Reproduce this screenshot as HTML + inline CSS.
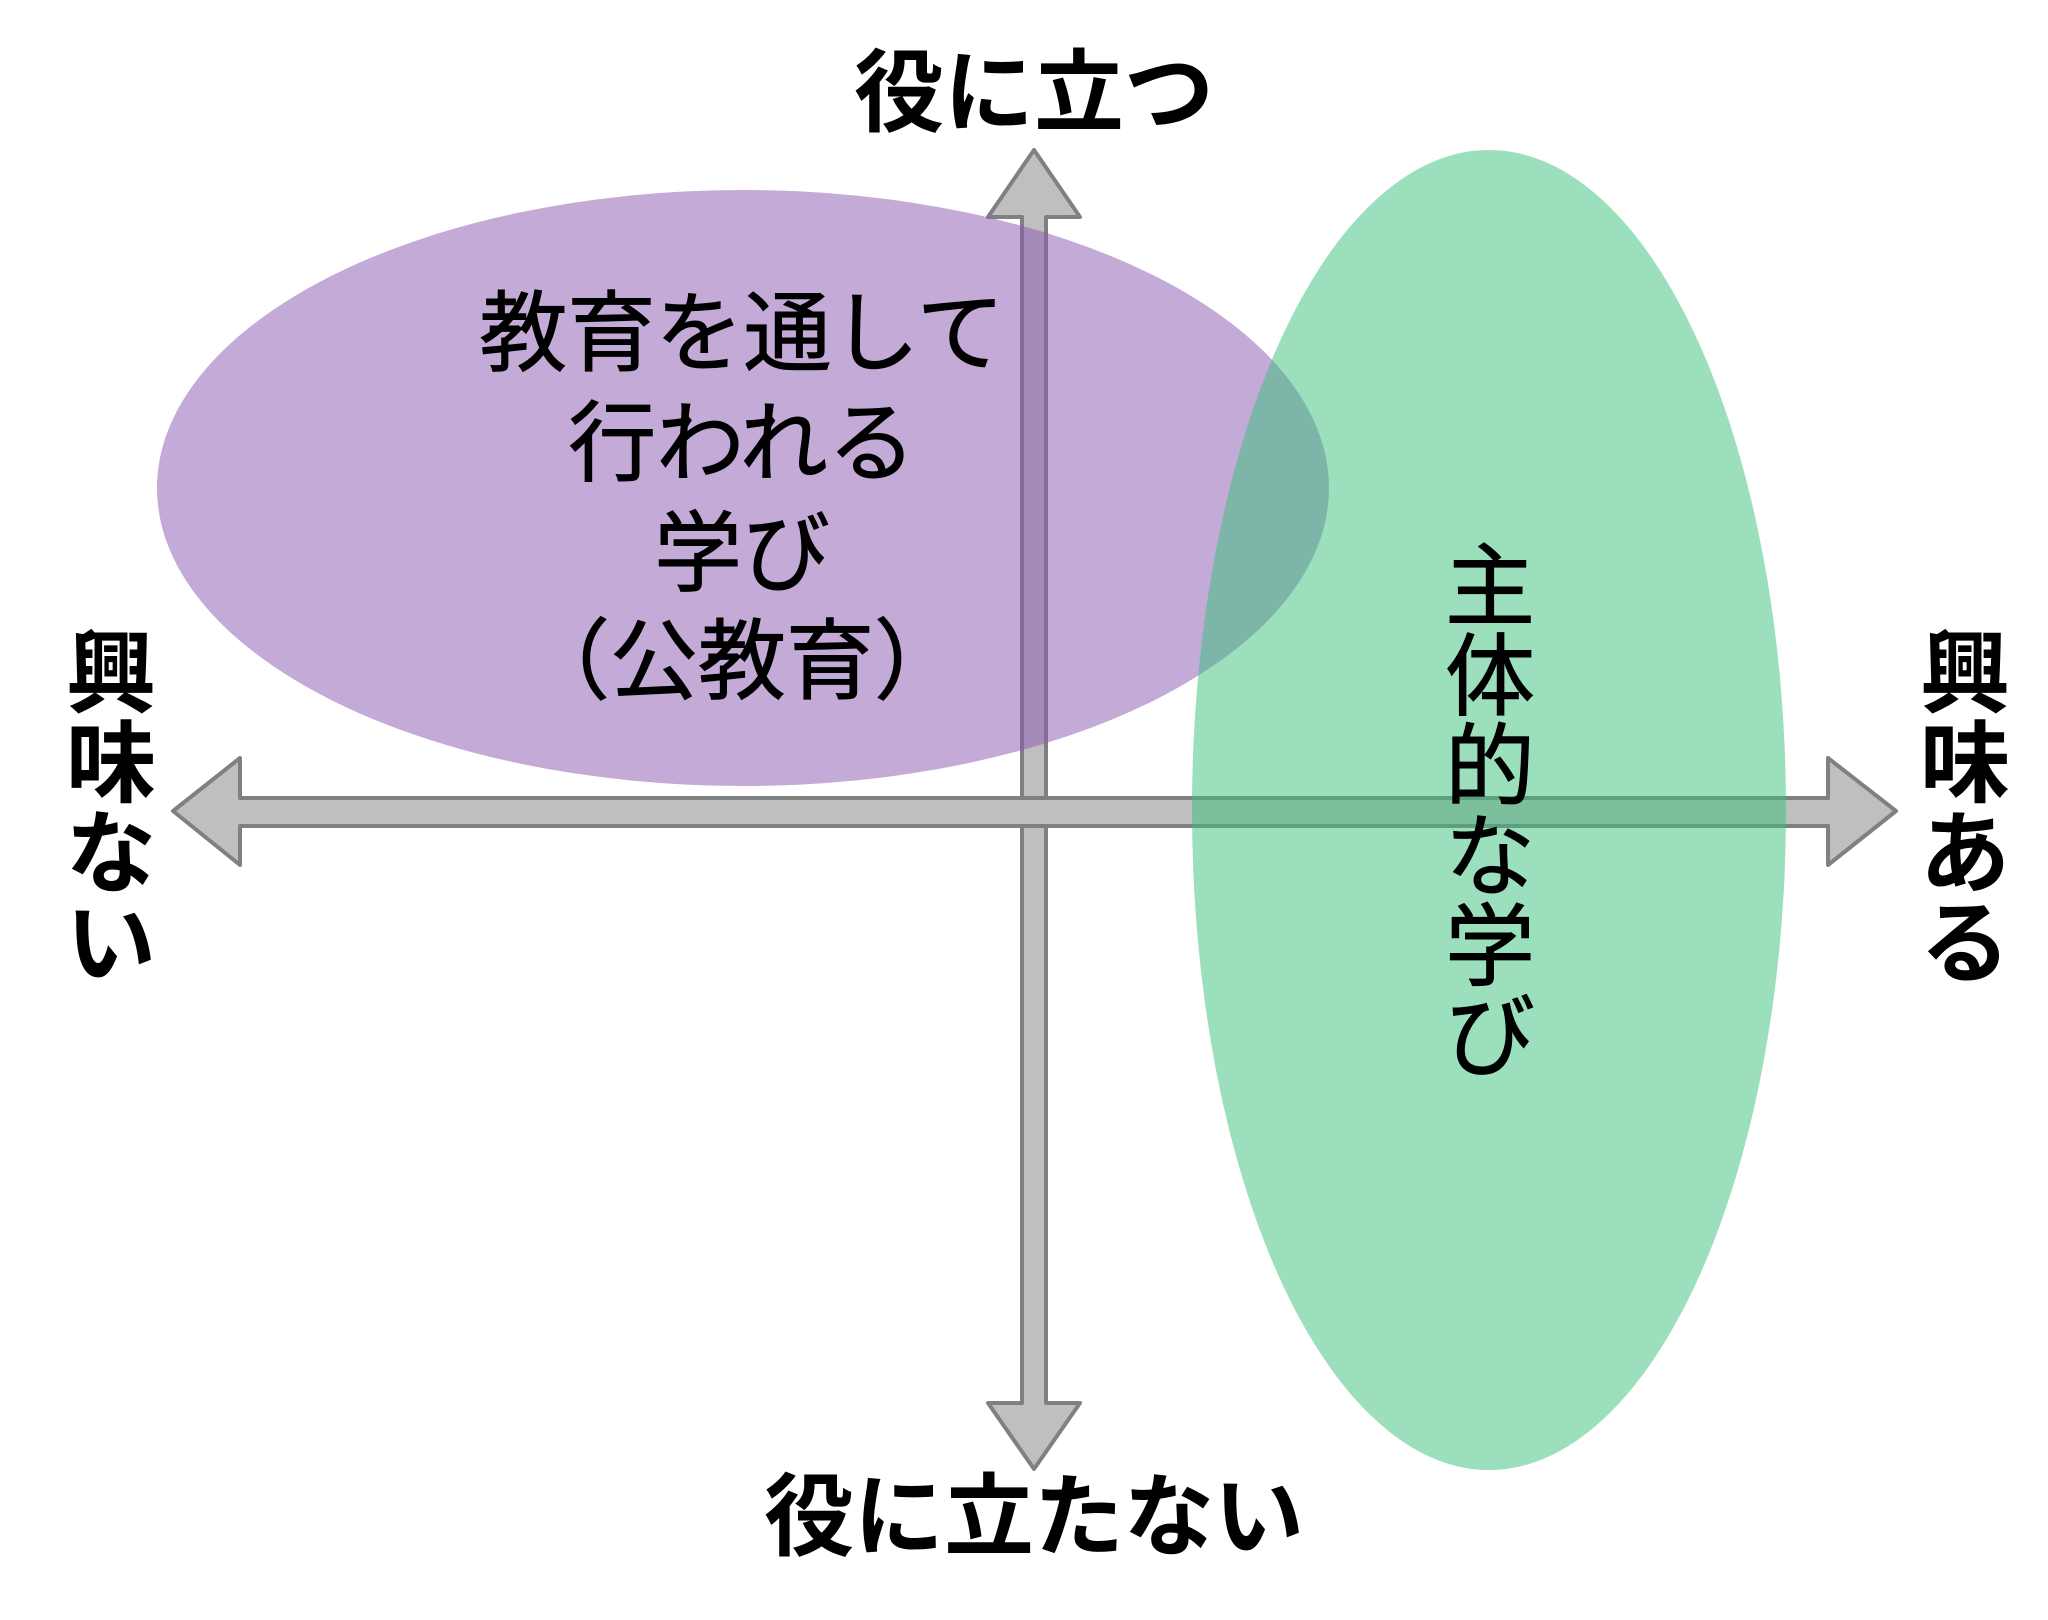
<!DOCTYPE html>
<html><head><meta charset="utf-8"><style>
html,body{margin:0;padding:0;background:#fff;}
svg{display:block;}
text{font-family:"Liberation Sans","Noto Sans CJK JP",sans-serif;fill:#000;}
</style></head><body>
<svg width="2048" height="1620" viewBox="0 0 2048 1620" xmlns="http://www.w3.org/2000/svg">
<rect width="2048" height="1620" fill="#fff"/>
<!-- vertical arrow -->
<polygon points="1034,150 1080,217 1046,217 1046,1403 1080,1403 1034,1469 988,1403 1022,1403 1022,217 988,217" fill="#bfbfbf" stroke="#808080" stroke-width="4" stroke-linejoin="round"/>
<!-- horizontal arrow -->
<polygon points="173,811 240,758 240,798 1828,798 1828,758 1896,811 1828,865 1828,826 240,826 240,865" fill="#bfbfbf" stroke="#808080" stroke-width="4" stroke-linejoin="round"/>
<!-- purple ellipse -->
<ellipse cx="743" cy="488" rx="586" ry="298" fill="#8a55b0" fill-opacity="0.5"/>
<!-- green ellipse -->
<ellipse cx="1489" cy="810" rx="297" ry="660" fill="#37bf7c" fill-opacity="0.5"/>
<!-- labels -->
<text x="1034" y="124" font-size="90" font-weight="bold" text-anchor="middle">役に立つ</text>
<text x="1034" y="1548" font-size="90" font-weight="bold" text-anchor="middle">役に立たない</text>
<g font-size="90" font-weight="bold" text-anchor="middle">
<text x="111" y="705">興</text><text x="111" y="795">味</text><text x="111" y="885">な</text><text x="111" y="975">い</text>
<text x="1965" y="705">興</text><text x="1965" y="795">味</text><text x="1965" y="885">あ</text><text x="1965" y="975">る</text>
</g>
<g font-size="88" text-anchor="middle" stroke="#000" stroke-width="1">
<text x="742" y="364">教育を通して</text>
<text x="742" y="474">行われる</text>
<text x="742" y="584">学び</text>
<text x="742" y="692">（公教育）</text>
</g>
<g font-size="90" text-anchor="middle" stroke="#000" stroke-width="1">
<text x="1490" y="618">主</text><text x="1490" y="708">体</text><text x="1490" y="798">的</text><text x="1490" y="888">な</text><text x="1490" y="978">学</text><text x="1490" y="1068">び</text>
</g>
</svg>
</body></html>
